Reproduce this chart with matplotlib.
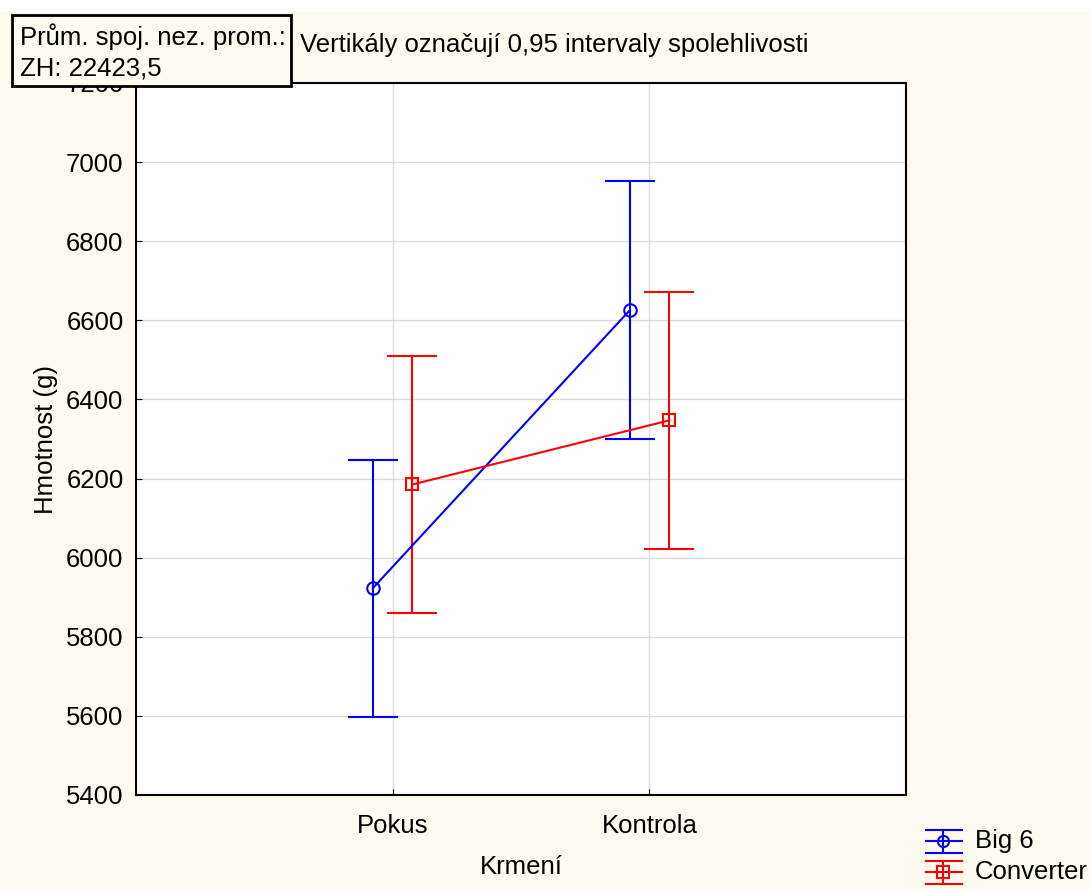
import matplotlib
matplotlib.use("Agg")
import matplotlib.pyplot as plt
from matplotlib.patches import Rectangle
from matplotlib.lines import Line2D

# data
categories = ["Pokus", "Kontrola"]
series = ["Big 6", "Converter"]
big6_mean = [5923, 6625]
big6_ci = [325, 326]
conv_mean = [6185, 6347]
conv_ci = [325, 325]

plt.rcParams['font.family'] = ['Liberation Sans', 'DejaVu Sans']
cream = '#fefaf0'
fs = 18.5

fig = plt.figure(figsize=(10.91, 8.91), dpi=100, facecolor='white')
fig.add_artist(Rectangle((0, 0), 1, 1 - 12 / 891, transform=fig.transFigure,
                         facecolor=cream, edgecolor='none', zorder=-10))

ax = fig.add_axes([136 / 1091, 96 / 891, 770 / 1091, 712 / 891])
ax.set_facecolor('white')

x = list(range(len(categories)))
off = 0.077
specs = [
    (big6_mean, big6_ci, 'blue', 'o', -off),
    (conv_mean, conv_ci, 'red', 's', off),
]
for means, ci, col, mk, dx in specs:
    xs = [v + dx for v in x]
    ax.errorbar(xs, means, yerr=ci, color=col, marker=mk, markersize=9,
                markerfacecolor='none', markeredgecolor=col, markeredgewidth=1.5,
                linewidth=1.5, capsize=18, capthick=1.5, elinewidth=1.5, zorder=3)

ax.set_xlim(-1, 2)
ax.set_ylim(5400, 7200)
ax.set_xticks(x)
ax.set_xticklabels(categories)
ax.set_yticks(range(5400, 7201, 200))
ax.grid(True, color='#dcdcdc', linewidth=1)
ax.set_axisbelow(True)
ax.tick_params(direction='in', length=4, labelsize=fs)
ax.tick_params(axis='y', pad=9)
ax.tick_params(axis='x', pad=14)
for s in ax.spines.values():
    s.set_linewidth(1.5)
ax.set_xlabel("Krmení", fontsize=fs, labelpad=12)
ax.set_ylabel("Hmotnost (g)", fontsize=fs, labelpad=6)

# header texts
fig.text(300 / 1091, 1 - 45 / 891, "Vertikály označují 0,95 intervaly spolehlivosti",
         fontsize=fs, va='center', ha='left')
fig.text(20 / 1091, 1 - 52 / 891, "Prům. spoj. nez. prom.:\nZH: 22423,5",
         fontsize=fs, va='center', ha='left', linespacing=1.3, zorder=10)
fig.add_artist(Rectangle((12 / 1091, 1 - 86 / 891), 279 / 1091, 71 / 891,
                         transform=fig.transFigure, facecolor=cream,
                         edgecolor='black', linewidth=2, zorder=9))

# legend drawn by hand
for i, (name, col, mk) in enumerate(zip(series, ['blue', 'red'], ['o', 's'])):
    yc = 1 - (841 + 31 * i) / 891
    h = 11.5 / 891
    for yy in (yc - h, yc, yc + h):
        fig.add_artist(Line2D([926 / 1091, 962 / 1091], [yy, yy], color=col,
                              linewidth=1.5, transform=fig.transFigure))
    fig.add_artist(Line2D([943 / 1091, 943 / 1091], [yc - h, yc + h], color=col,
                          linewidth=1.5, transform=fig.transFigure))
    fig.add_artist(Line2D([943 / 1091], [yc], color=col, marker=mk, markersize=8,
                          markerfacecolor='none', markeredgewidth=1.5,
                          transform=fig.transFigure))
    fig.text(975 / 1091, yc, name, fontsize=fs, va='center', ha='left')

fig.savefig("out.png", dpi=100, facecolor=fig.get_facecolor())
